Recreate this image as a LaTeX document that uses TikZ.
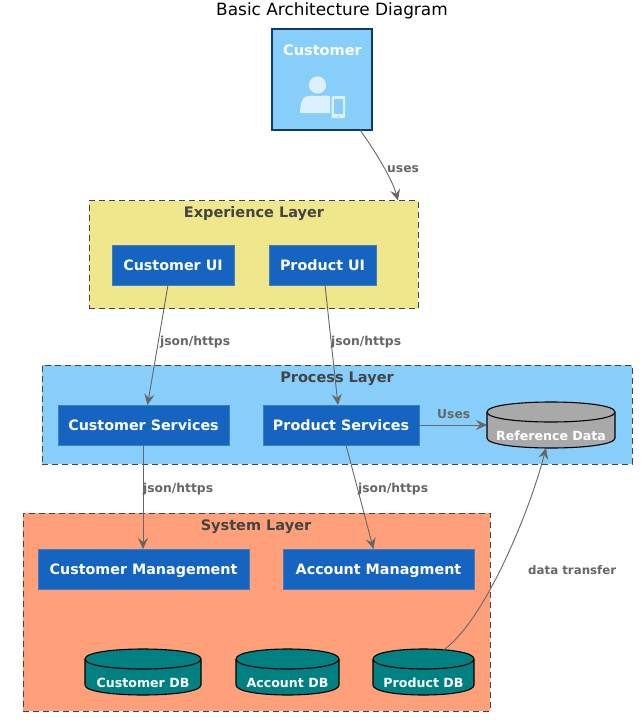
\documentclass[tikz,border=0pt]{standalone}
\usepackage{fontspec}
\setmainfont{DejaVu Sans}
\usetikzlibrary{arrows.meta}
\definecolor{skyb}{HTML}{87CEFA}
\definecolor{khak}{HTML}{F0E68C}
\definecolor{salm}{HTML}{FFA07A}
\definecolor{ctn}{HTML}{1565C0}
\definecolor{ctnb}{HTML}{3C7FC0}
\definecolor{teal2}{HTML}{008080}
\definecolor{gry}{HTML}{A9A9A9}
\definecolor{lnk}{HTML}{666666}
\definecolor{ttl}{HTML}{444444}
\definecolor{icn}{HTML}{DCF0FE}
\definecolor{dkb}{HTML}{0B3C6B}
\newcommand{\dbshape}[2]{%
  \path[draw=black,line width=1.1pt,fill=#2]
    ([yshift=-10pt]#1.north west) .. controls ([yshift=3.33pt]#1.north west) and ([yshift=3.33pt]#1.north east) .. ([yshift=-10pt]#1.north east)
    -- ([yshift=10pt]#1.south east) .. controls ([yshift=-3.33pt]#1.south east) and ([yshift=-3.33pt]#1.south west) .. ([yshift=10pt]#1.south west)
    -- cycle;
  \path[draw=black,line width=1.1pt]
    ([yshift=-10pt]#1.north west) .. controls ([yshift=-23.33pt]#1.north west) and ([yshift=-23.33pt]#1.north east) .. ([yshift=-10pt]#1.north east);
}
\tikzset{
  x=1pt,y=-1pt,
  layer/.style={draw=ttl,dash pattern=on 6pt off 4pt,line width=0.8pt,minimum width=#1,anchor=north west,inner sep=0pt,outer sep=0pt},
  layerlbl/.style={text=ttl,font=\fontsize{14.5}{16}\selectfont\bfseries},
  svc/.style={draw=ctnb,fill=ctn,text=white,line width=0.7pt,font=\fontsize{14.3}{16}\selectfont\bfseries,minimum height=40pt,inner sep=0pt,outer sep=0pt,anchor=north west,text height=11pt,text depth=0pt},
  db/.style={inner sep=0pt,outer sep=0pt,minimum height=46pt,minimum width=#1,anchor=center},
  dblbl/.style={text=white,font=\fontsize{12.6}{15}\selectfont\bfseries,inner sep=0pt},
  conn/.style={draw=lnk,line width=0.9pt,-{Stealth[length=11pt,width=10pt,inset=4pt]}},
  lbl/.style={text=lnk,font=\fontsize{12.3}{14}\selectfont\bfseries,anchor=west,inner sep=0pt}
}
\begin{document}
\begin{tikzpicture}
\useasboundingbox (0,0) rectangle (641,720);
\fill[white] (0,0) rectangle (641,720);
\node[font=\fontsize{16.9}{18}\selectfont,inner sep=0pt] (title) at (332,11) {Basic Architecture Diagram};

% layers
\node[layer=329pt,minimum height=108pt,fill=khak] (exp) at (89,200.5) {};
\node[layer=590pt,minimum height=99pt,fill=skyb] (proc) at (42,365) {};
\node[layer=467pt,minimum height=198pt,fill=salm] (sys) at (23,513) {};
\node[layerlbl] (expl) at (254,213.5) {Experience Layer};
\node[layerlbl] (procl) at (337,378.5) {Process Layer};
\node[layerlbl] (sysl) at (256,526.5) {System Layer};

% customer
\node[draw=dkb,fill=skyb,line width=1.5pt,minimum width=100pt,minimum height=101pt,anchor=north west,inner sep=0pt,outer sep=0pt] (cust) at (272,29) {};
\node[text=white,font=\fontsize{14.5}{16}\selectfont\bfseries,inner sep=0pt] (custl) at (322.5,50.5) {Customer};
\fill[icn] (317.5,85) circle (8.6);
\fill[icn] (300,113) .. controls (300.5,105) and (301,98) .. (306,96.5) .. controls (311,95) and (313,96) .. (317.5,96) .. controls (322,96) and (325,95) .. (330,96) -- (330,113) -- cycle;
\fill[icn,rounded corners=1pt] (331.5,96) rectangle (345,118);
\fill[skyb] (333.5,99) rectangle (343,113.5);
\fill[skyb!60!icn] (336.5,115.5) rectangle (340,116.5);

% services
\node[svc,minimum width=122pt] (cui) at (112,245) {Customer UI};
\node[svc,minimum width=107pt] (pui) at (269,245) {Product UI};
\node[svc,minimum width=171pt] (csv) at (58,405) {Customer Services};
\node[svc,minimum width=156pt] (psv) at (263,405) {Product Services};
\node[svc,minimum width=211pt] (cmg) at (38,549) {Customer Management};
\node[svc,minimum width=191pt] (amg) at (283,549) {Account Managment};

% databases
\node[db=128pt] (ref) at (551,425) {};
\node[db=116pt] (cdb) at (143,672) {};
\node[db=103pt] (adb) at (287.5,672) {};
\node[db=101pt] (pdb) at (423.5,672) {};
\dbshape{ref}{gry}
\dbshape{cdb}{teal2}
\dbshape{adb}{teal2}
\dbshape{pdb}{teal2}
\node[dblbl] (refl) at (551,435.5) {Reference Data};
\node[dblbl] (cdbl) at (143,682.5) {Customer DB};
\node[dblbl] (adbl) at (287.5,682.5) {Account DB};
\node[dblbl] (pdbl) at (423.5,682.5) {Product DB};

% connectors
\draw[conn] ([xshift=38pt]cust.south) .. controls +(15,21) and +(-6,-22) .. ([xshift=-20pt]exp.north east);
\draw[conn] ([xshift=-5pt]cui.south) -- ([xshift=4pt]csv.north);
\draw[conn] ([xshift=2.5pt]pui.south) -- ([xshift=-3pt]psv.north);
\draw[conn] ([xshift=-0.5pt]csv.south) -- ([xshift=-0.5pt]csv.south |- cmg.north);
\draw[conn] ([xshift=5pt]psv.south) -- ([xshift=-5pt]amg.north);
\draw[conn] (psv.east) -- (psv.east -| ref.west);
\draw[conn] ([xshift=20pt,yshift=-1pt]pdb.north) .. controls +(42,-30) and +(-16,62) .. ([xshift=-5pt]ref.south);

% link labels
\node[lbl] (l1) at (387,169.5) {uses};
\node[lbl] (l2) at (160,342.5) {json/https};
\node[lbl] (l3) at (331,342.5) {json/https};
\node[lbl] (l4) at (143,489.5) {json/https};
\node[lbl] (l5) at (358,489.5) {json/https};
\node[lbl] (l6) at (437,414.5) {Uses};
\node[lbl,font=\fontsize{11.8}{14}\selectfont\bfseries] (l7) at (528,570) {data transfer};
\end{tikzpicture}
\end{document}
